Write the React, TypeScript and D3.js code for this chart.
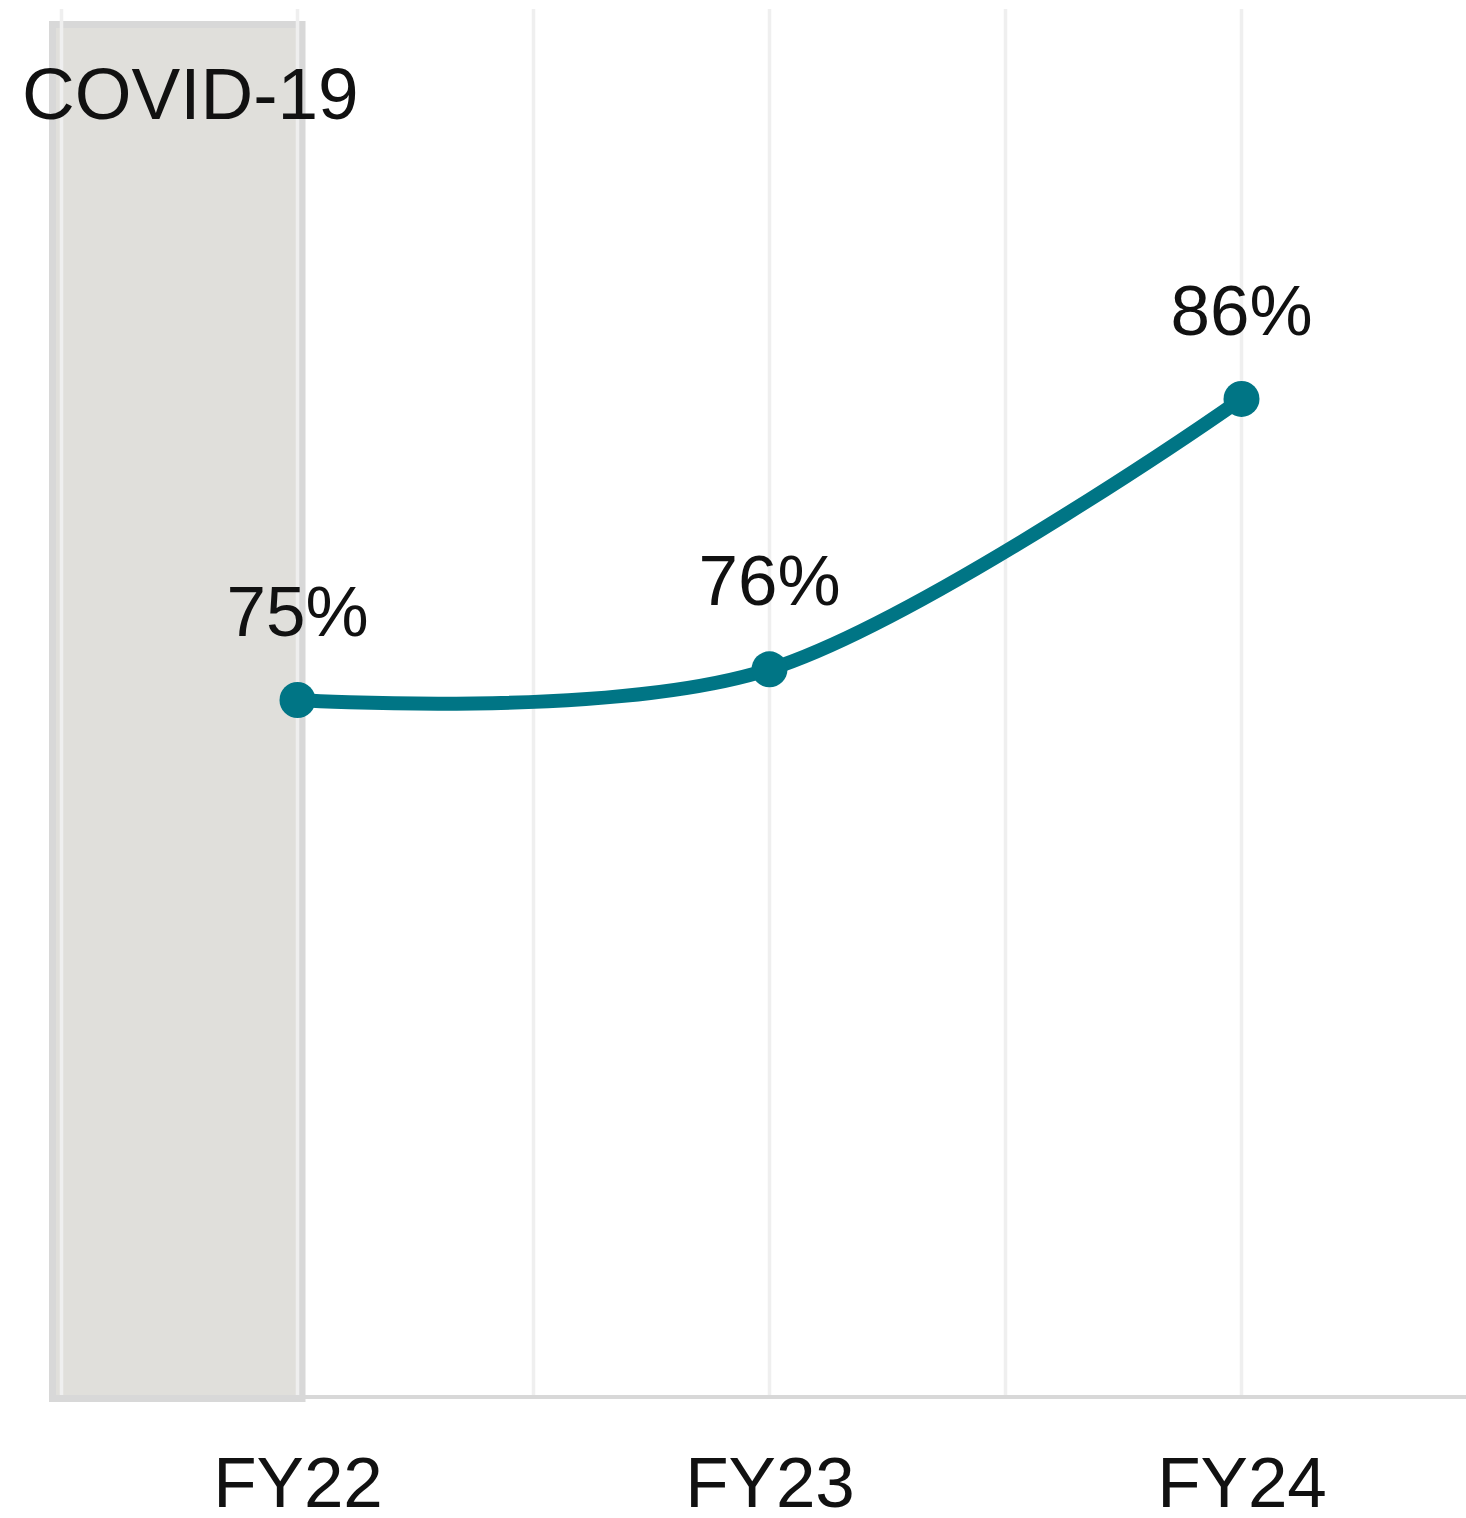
import * as d3 from "d3";
import { useEffect, useRef } from "react";

const years = [22, 23, 24];
const yearLabels = ["FY22", "FY23", "FY24"];
const rates = [75.0, 76.1, 85.8];
const gridYears = [21.5, 22, 22.5, 23, 23.5, 24];
const bandLabel = "COVID-19";

const WIDTH = 1466;
const HEIGHT = 1518;
const FONT = "'Liberation Sans', Arial, sans-serif";

function LineChart() {
	const ref = useRef<SVGSVGElement>(null);

	function drawChart() {
		const svg = d3.select(ref.current);
		svg.selectAll("*").remove();

		const xScale = d3.scaleLinear().domain([22, 24]).range([297.5, 1241.5]);
		const yScale = d3.scaleLinear().domain([50, 100]).range([1397, 3]);
		const baseline = yScale(50);

		// covid band behind everything
		svg.append("rect")
			.attr("x", xScale(21.5) - 9)
			.attr("y", 24.5)
			.attr("width", xScale(22) - xScale(21.5) + 13.5)
			.attr("height", baseline - 24.5 + 1.5)
			.attr("fill", "#e0dfdb")
			.attr("stroke", "#d8d8d8")
			.attr("stroke-width", 7);

		// vertical gridlines
		svg.append("g")
			.selectAll("line")
			.data(gridYears)
			.enter()
			.append("line")
			.attr("x1", (d) => xScale(d))
			.attr("x2", (d) => xScale(d))
			.attr("y1", 9)
			.attr("y2", baseline - 2)
			.attr("stroke", "#efefef")
			.attr("stroke-width", 3.5);

		// baseline
		svg.append("line")
			.attr("x1", xScale(21.5) - 12.5)
			.attr("x2", WIDTH)
			.attr("y1", baseline)
			.attr("y2", baseline)
			.attr("stroke", "#d8d8d8")
			.attr("stroke-width", 4);

		svg.append("text")
			.attr("x", 22)
			.attr("y", 119)
			.attr("font-family", FONT)
			.attr("font-size", 73)
			.attr("fill", "#111")
			.text(bandLabel);

		// x axis labels
		const xAxis = d3
			.axisBottom(xScale)
			.tickValues(years)
			.tickSize(0)
			.tickFormat((d, i) => yearLabels[i]);
		const axisG = svg
			.append("g")
			.attr("transform", `translate(0,${baseline})`)
			.call(xAxis);
		axisG.select(".domain").remove();
		axisG
			.selectAll("text")
			.attr("y", 110)
			.attr("dy", 0)
			.attr("font-family", FONT)
			.attr("font-size", 71)
			.attr("fill", "#111");

		const line = d3
			.line<number>()
			.x((d, i) => xScale(years[i]))
			.y((d) => yScale(d))
			.curve(d3.curveCardinal);

		svg.append("path")
			.datum(rates)
			.attr("d", line)
			.attr("fill", "none")
			.attr("stroke", "#007585")
			.attr("stroke-width", 14)
			.attr("stroke-linecap", "round");

		svg.append("g")
			.selectAll("circle")
			.data(rates)
			.enter()
			.append("circle")
			.attr("cx", (d, i) => xScale(years[i]))
			.attr("cy", (d) => yScale(d))
			.attr("r", 18)
			.attr("fill", "#007585");

		svg.append("g")
			.selectAll("text")
			.data(rates)
			.enter()
			.append("text")
			.attr("x", (d, i) => xScale(years[i]))
			.attr("y", (d) => yScale(d) - 64)
			.attr("text-anchor", "middle")
			.attr("font-family", FONT)
			.attr("font-size", 71)
			.attr("fill", "#111")
			.text((d) => d3.format(".0f")(d) + "%");
	}

	useEffect(() => {
		drawChart();
	}, []);

	return (
		<svg
			ref={ref}
			width={WIDTH}
			height={HEIGHT}
			style={{ position: "absolute", left: 0, top: 0, background: "#fff" }}
		/>
	);
}

export default function App() {
	return <LineChart />;
}
